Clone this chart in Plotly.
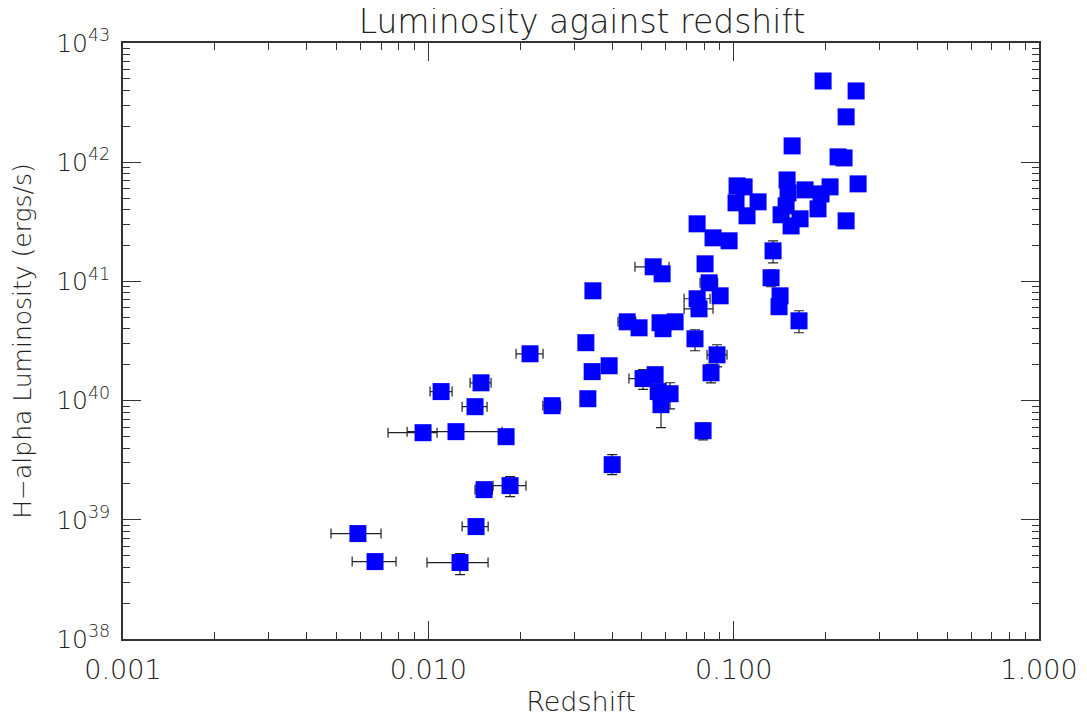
import plotly.graph_objects as go

# Redshift of each galaxy
redshift = [
    0.1963, 0.2518, 0.2335, 0.1554, 0.2198, 0.2299, 0.2556, 0.1026, 0.1082, 0.1496,
    0.1507, 0.1713, 0.2069, 0.1933, 0.1018, 0.1202, 0.1485, 0.1889, 0.1106, 0.1430,
    0.1650, 0.1542, 0.2335, 0.0759, 0.0856, 0.0966, 0.1346, 0.0545, 0.0583, 0.0806,
    0.0346, 0.1326, 0.0831, 0.1419, 0.1408, 0.0759, 0.0770, 0.0903, 0.1637, 0.0448,
    0.0490, 0.0574, 0.0587, 0.0643, 0.0328, 0.0747, 0.02153, 0.0882, 0.0391, 0.0344,
    0.0843, 0.0505, 0.0553, 0.0566, 0.0619, 0.0578, 0.0333, 0.01488, 0.01101, 0.01422,
    0.02542, 0.0794, 0.00961, 0.01232, 0.01797, 0.0400, 0.01522, 0.01852, 0.01433, 0.00588,
    0.00669, 0.01270,
]

# H-alpha luminosity (erg/s)
luminosity = [
    4.80e42, 3.96e42, 2.40e42, 1.37e42, 1.108e42, 1.086e42, 6.58e41, 6.33e41, 6.21e41, 7.10e41,
    5.53e41, 5.86e41, 6.21e41, 5.42e41, 4.56e41, 4.65e41, 4.30e41, 4.06e41, 3.55e41, 3.62e41,
    3.35e41, 2.92e41, 3.22e41, 3.04e41, 2.32e41, 2.19e41, 1.805e41, 1.326e41, 1.158e41, 1.404e41,
    8.34e40, 1.072e41, 9.73e40, 7.57e40, 6.13e40, 7.15e40, 5.89e40, 7.57e40, 4.67e40, 4.58e40,
    4.08e40, 4.50e40, 4.01e40, 4.58e40, 3.06e40, 3.30e40, 2.47e40, 2.42e40, 1.96e40, 1.75e40,
    1.71e40, 1.53e40, 1.65e40, 1.19e40, 1.142e40, 9.24e39, 1.037e40, 1.41e40, 1.19e40, 8.89e39,
    9.06e39, 5.59e39, 5.38e39, 5.49e39, 4.98e39, 2.90e39, 1.79e39, 1.935e39, 8.77e38, 7.66e38,
    4.46e38, 4.38e38,
]

# redshift errors (upper / lower)
z_err_plus = [
    0, 0, 0, 0, 0, 0, 0, 0, 0, 0,
    0, 0, 0, 0, 0, 0, 0, 0, 0, 0,
    0, 0, 0, 0, 0, 0, 0, 0.0069, 0, 0,
    0, 0, 0.0055, 0, 0, 0.0078, 0.0086, 0, 0, 0.003,
    0, 0, 0, 0, 0, 0, 0.00222, 0.0069, 0, 0,
    0, 0.0051, 0, 0, 0, 0, 0, 0.00117, 0.00095, 0.00135,
    0.0017, 0, 0.00107, 0.00512, 0, 0, 0.001, 0.00237, 0.00137, 0.00112,
    0.00115, 0.00299,
]
z_err_minus = [
    0, 0, 0, 0, 0, 0, 0, 0, 0, 0,
    0, 0, 0, 0, 0, 0, 0, 0, 0, 0,
    0, 0, 0, 0, 0, 0, 0, 0.0070, 0, 0,
    0, 0, 0.0055, 0, 0, 0.0071, 0.0082, 0, 0, 0.003,
    0, 0, 0, 0, 0, 0, 0.00215, 0.0064, 0, 0,
    0, 0.0051, 0, 0, 0, 0, 0, 0.00118, 0.00088, 0.00132,
    0.0017, 0, 0.00223, 0.0038, 0, 0, 0.001, 0.00223, 0.00143, 0.00108,
    0.00106, 0.0028,
]

# luminosity errors (upper / lower)
lum_err_plus = [
    0, 0, 0, 0, 0, 0, 0, 0, 0, 0,
    0, 0, 0, 0, 0, 0, 0, 0, 0, 0,
    0, 0, 0, 0, 0, 0, 3.85e40, 0, 0, 0,
    0, 1.7e40, 0, 0, 0, 0, 0, 0, 1.0e40, 0,
    0, 0, 0, 0, 0, 6.3e39, 0, 5.2e39, 0, 0,
    3.0e39, 2.9e39, 0, 0, 2.7e39, 3.3e39, 0, 0, 0, 0,
    0, 9.0e38, 0, 0, 0, 6.2e38, 0, 3.7e38, 0, 0,
    0, 8.3e37,
]
lum_err_minus = [
    0, 0, 0, 0, 0, 0, 0, 0, 0, 0,
    0, 0, 0, 0, 0, 0, 0, 0, 0, 0,
    0, 0, 0, 0, 0, 0, 3.73e40, 0, 0, 0,
    0, 1.7e40, 0, 0, 0, 0, 0, 0, 9.6e39, 0,
    0, 0, 0, 0, 0, 6.8e39, 0, 5.0e39, 0, 0,
    3.0e39, 2.9e39, 0, 0, 2.9e39, 3.3e39, 0, 0, 0, 0,
    0, 9.0e38, 0, 0, 0, 5.1e38, 0, 3.7e38, 0, 0,
    0, 9.1e37,
]

x_tickvals = [0.001, 0.01, 0.1, 1.0]
x_ticktext = ["0.001", "0.010", "0.100", "1.000"]
y_tickvals = [1e38, 1e39, 1e40, 1e41, 1e42, 1e43]
y_ticktext = ["10<sup>%d</sup>" % e for e in range(38, 44)]

FONT = "DejaVu Sans Light, DejaVu Sans ExtraLight, Liberation Sans, sans-serif"
TEXT_COLOR = "#222222"
AXIS_COLOR = "#333333"

fig = go.Figure()

fig.add_trace(go.Scatter(
    x=redshift,
    y=luminosity,
    mode="markers",
    marker=dict(symbol="square", size=17, color="#0000FF", line=dict(width=0)),
    error_x=dict(type="data", symmetric=False, array=z_err_plus, arrayminus=z_err_minus,
                 color="#222222", thickness=1.2, width=5),
    error_y=dict(type="data", symmetric=False, array=lum_err_plus, arrayminus=lum_err_minus,
                 color="#222222", thickness=1.2, width=5),
    showlegend=False,
))

axis_common = dict(
    type="log",
    automargin=False,
    showgrid=False,
    zeroline=False,
    showline=True,
    linecolor=AXIS_COLOR,
    linewidth=1.5,
    mirror="allticks",
    ticks="inside",
    ticklen=18,
    tickwidth=1.2,
    tickcolor=AXIS_COLOR,
    minor=dict(ticks="inside", ticklen=7, tickwidth=1, tickcolor=AXIS_COLOR, dtick="D1", showgrid=False),
)

fig.update_xaxes(
    **axis_common,
    range=[-3, 0],
    tickvals=x_tickvals,
    ticktext=x_ticktext,
    tickfont=dict(family=FONT, size=27, color=TEXT_COLOR),
    ticklabelstandoff=6,
    title=dict(text="Redshift", font=dict(family=FONT, size=27, color=TEXT_COLOR), standoff=8),
)
fig.update_yaxes(
    **axis_common,
    range=[38, 43],
    tickvals=y_tickvals,
    ticktext=y_ticktext,
    tickfont=dict(family=FONT, size=25, color=TEXT_COLOR),
    ticklabelstandoff=6,
    title=dict(text="H−alpha Luminosity (ergs/s)", font=dict(family=FONT, size=25, color=TEXT_COLOR), standoff=20),
)

# the page adds an 8px body margin, so the figure is a little smaller than the window
fig.update_layout(
    width=1079,
    height=715,
    margin=dict(l=115, r=48, t=35, b=84, autoexpand=False),
    paper_bgcolor="white",
    plot_bgcolor="white",
    title=dict(text="Luminosity against redshift", x=0.532, xanchor="center",
               yref="container", y=1, yanchor="top", pad=dict(t=2, b=0),
               font=dict(family=FONT, size=33, color=TEXT_COLOR)),
)

fig.write_html("out.html")
